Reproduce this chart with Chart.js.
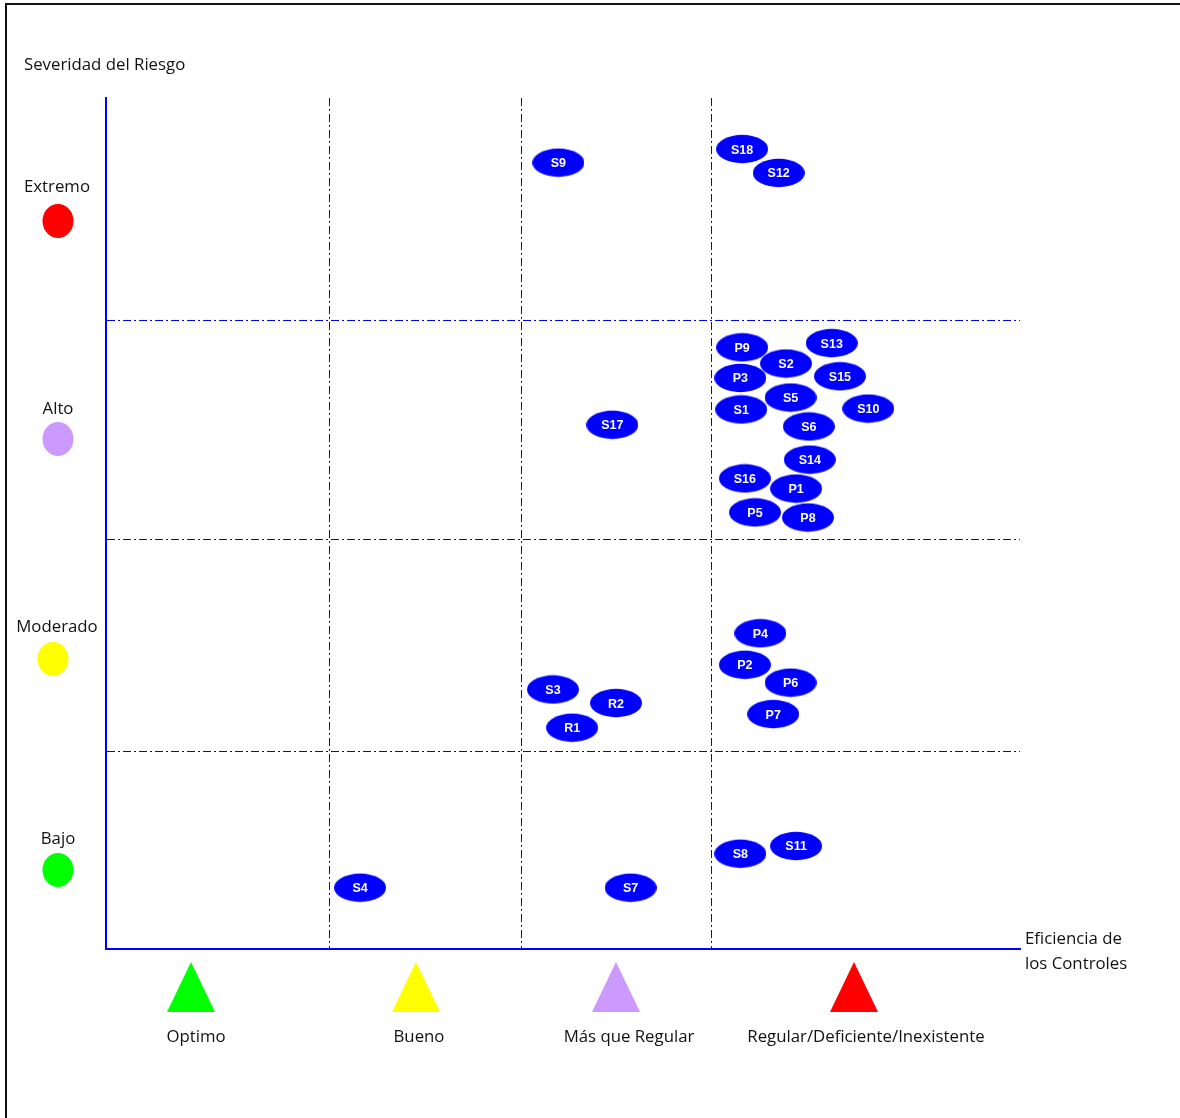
<!DOCTYPE html>
<html>
<head>
<meta charset="utf-8">
<script src="https://cdn.jsdelivr.net/npm/chart.js@4/dist/chart.umd.min.js"></script>
<style>
  html, body { margin: 0; padding: 0; background: #fff; }
  #wrap { position: relative; width: 1180px; height: 1118px; overflow: hidden; background: #fff; }
  #frame { position: absolute; left: 5px; top: 3px; width: 1200px; height: 1200px; border-top: 2px solid #111; border-left: 2px solid #111; }
  canvas { position: absolute; left: 0; top: 0; }
  .t { position: absolute; font-family: "Open Sans", sans-serif; font-size: 16.8px; color: #111; white-space: nowrap; line-height: 22px; }
  .c { transform: translate(-50%, -50%); }
  .l { transform: translate(0, -50%); }
  .dot { position: absolute; width: 31px; height: 34px; border-radius: 50%; transform: translate(-50%, -50%); }
  .tri { position: absolute; width: 48px; height: 50px; transform: translate(-50%, -50%); clip-path: polygon(50% 0, 100% 100%, 0 100%); }
</style>
</head>
<body>
<div id="wrap">
  <div id="frame"></div>
  <canvas id="c" width="1180" height="1118"></canvas>
  <div class="t l" style="left:24px; top:64px;">Severidad del Riesgo</div>

  <div class="t c" style="left:57px; top:186px;">Extremo</div>
  <div class="dot" style="left:58px; top:221px; background:#ff0000;"></div>
  <div class="t c" style="left:58px; top:408px;">Alto</div>
  <div class="dot" style="left:58px; top:439px; background:#cc99ff;"></div>
  <div class="t c" style="left:57px; top:626px;">Moderado</div>
  <div class="dot" style="left:53px; top:659px; background:#ffff00;"></div>
  <div class="t c" style="left:58px; top:838px;">Bajo</div>
  <div class="dot" style="left:58px; top:870px; background:#00ff00;"></div>

  <div class="t l" style="left:1025px; top:938px;">Eficiencia de</div>
  <div class="t l" style="left:1025px; top:963px;">los Controles</div>

  <div class="tri" style="left:191px; top:987px; background:#00ff00;"></div>
  <div class="tri" style="left:416px; top:987px; background:#ffff00;"></div>
  <div class="tri" style="left:616px; top:987px; background:#cc99ff;"></div>
  <div class="tri" style="left:854px; top:987px; background:#ff0000;"></div>

  <div class="t c" style="left:196px; top:1036px;">Optimo</div>
  <div class="t c" style="left:419px; top:1036px;">Bueno</div>
  <div class="t c" style="left:629px; top:1036px;">Más que Regular</div>
  <div class="t c" style="left:866px; top:1036px;">Regular/Deficiente/Inexistente</div>
</div>
<script>
// ---- data ----
const riskLabels = ["S9","S18","S12","P9","S13","S2","P3","S15","S5","S1","S10","S17","S6","S14","S16","P1","P5","P8","P4","P2","P6","P7","S3","R2","R1","S8","S11","S4","S7"];
const controlEfficiency = [49.5,69.6,73.6,69.6,79.4,74.4,69.4,80.3,74.9,69.5,83.4,55.4,76.9,77.0,69.9,75.5,71.0,76.8,71.6,69.9,74.9,73.0,48.9,55.8,51.0,69.4,75.5,27.8,57.4];
const riskSeverity    = [92.4,94.0,91.2,70.7,71.2,68.8,67.1,67.3,64.8,63.4,63.5,61.6,61.4,57.5,55.3,54.1,51.3,50.7,37.1,33.4,31.3,27.6,30.5,28.9,26.0,11.2,12.1,7.2,7.2];
const xBoundaries = [24.4, 45.5, 66.3];
const yBoundaries = [23.2, 48.1, 73.8];

// ellipse marker
const marker = document.createElement('canvas');
marker.width = 52; marker.height = 30;
(function(){
  const g = marker.getContext('2d');
  g.fillStyle = '#0000ff';
  g.beginPath();
  g.ellipse(26, 15, 26, 14.2, 0, 0, Math.PI * 2);
  g.fill();
})();

const pointLabels = {
  id: 'pointLabels',
  afterDatasetsDraw(chart) {
    const ctx = chart.ctx;
    const meta = chart.getDatasetMeta(0);
    ctx.save();
    ctx.fillStyle = '#ffffff';
    ctx.font = 'bold 12.5px "Liberation Sans", Arial, sans-serif';
    ctx.textAlign = 'center';
    ctx.textBaseline = 'middle';
    meta.data.forEach((el, i) => {
      ctx.fillText(riskLabels[i], el.x, el.y + 1);
    });
    ctx.restore();
  }
};

const pts = controlEfficiency.map((x, i) => ({ x: x, y: riskSeverity[i] }));

new Chart(document.getElementById('c'), {
  type: 'scatter',
  data: {
    datasets: [{
      data: pts,
      pointStyle: marker,
      pointRadius: 14,
      pointHoverRadius: 14
    }]
  },
  options: {
    responsive: false,
    animation: false,
    events: [],
    layout: { padding: { left: 106, top: 98, right: 160, bottom: 169 } },
    plugins: { legend: { display: false }, tooltip: { enabled: false } },
    scales: {
      x: {
        type: 'linear', min: 0, max: 100,
        afterBuildTicks: (axis) => { axis.ticks = xBoundaries.map(v => ({ value: v })); },
        ticks: { display: false },
        grid: { drawTicks: false, color: '#0000ff', lineWidth: 1 },
        border: { display: true, color: '#0000ff', width: 2, dash: [8, 3, 2, 3] }
      },
      y: {
        type: 'linear', min: 0, max: 100,
        afterBuildTicks: (axis) => { axis.ticks = yBoundaries.map(v => ({ value: v })); },
        ticks: { display: false },
        grid: { drawTicks: false, color: '#0000ff', lineWidth: 1 },
        border: { display: true, color: '#0000ff', width: 2, dash: [8, 3, 2, 3] }
      }
    }
  },
  plugins: [pointLabels]
});
</script>
</body>
</html>
